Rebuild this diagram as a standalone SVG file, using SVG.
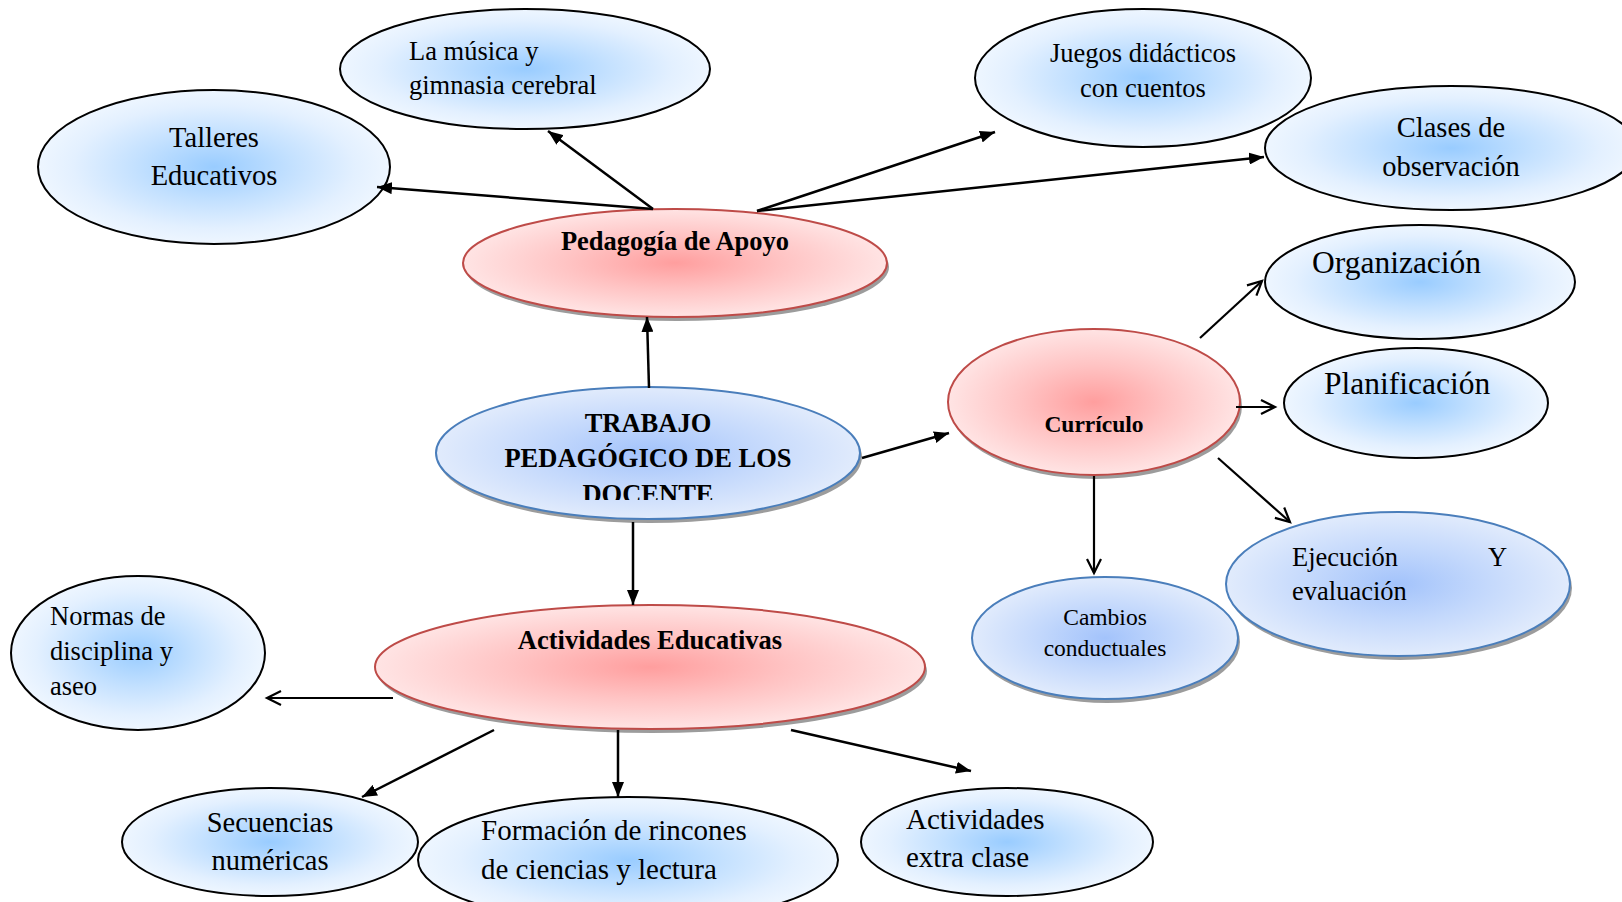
<svg xmlns="http://www.w3.org/2000/svg" width="1622" height="902" viewBox="0 0 1622 902">
<defs>
<radialGradient id="gBlue" cx="0.5" cy="0.5" r="0.5">
<stop offset="0" stop-color="#99ccff"/>
<stop offset="0.45" stop-color="#c4e1ff"/>
<stop offset="0.8" stop-color="#e3f0ff"/>
<stop offset="1" stop-color="#eef6ff"/>
</radialGradient>
<radialGradient id="gBlue2" cx="0.5" cy="0.5" r="0.5">
<stop offset="0" stop-color="#a3c3fb"/>
<stop offset="0.5" stop-color="#c3d8fc"/>
<stop offset="1" stop-color="#e1ebfc"/>
</radialGradient>
<radialGradient id="gRed" cx="0.5" cy="0.5" r="0.5">
<stop offset="0" stop-color="#ff9e9e"/>
<stop offset="0.5" stop-color="#ffc3c3"/>
<stop offset="1" stop-color="#ffe4e4"/>
</radialGradient>
<marker id="aFill" markerUnits="userSpaceOnUse" markerWidth="16" markerHeight="12" refX="15" refY="6" orient="auto">
<path d="M0,0 L15,6 L0,12 z" fill="#000"/>
</marker>
<marker id="aOpen" markerUnits="userSpaceOnUse" markerWidth="18" markerHeight="18" refX="15" refY="8" orient="auto">
<path d="M1,1 L15,8 L1,15" fill="none" stroke="#000" stroke-width="2.2"/>
</marker>
<clipPath id="clipDoc"><rect x="430" y="380" width="440" height="120"/></clipPath>
</defs>
<style>
.t{font-family:"Liberation Serif","Times New Roman",serif;fill:#000}
.b{font-weight:bold}
.n1{fill:url(#gBlue);stroke:#000;stroke-width:2}
.n2{fill:url(#gBlue2);stroke:#4a7ebb;stroke-width:2}
.nr{fill:url(#gRed);stroke:#be4b48;stroke-width:2}
.sh{fill:#9c9c9c}
.c{fill:none;stroke:#000;stroke-width:2.5}
.cf{marker-end:url(#aFill)}
.co{marker-end:url(#aOpen);stroke-width:2.2}
</style>

<g id="node-talleres">
<ellipse class="n1" cx="214" cy="167" rx="176" ry="77"/>
<text class="t" x="214" y="147" font-size="28.5" text-anchor="middle">Talleres</text>
<text class="t" x="214" y="185" font-size="28.5" text-anchor="middle">Educativos</text>
</g>
<g id="node-musica">
<ellipse class="n1" cx="525" cy="69" rx="185" ry="60"/>
<text class="t" x="409" y="60" font-size="26.5">La música y</text>
<text class="t" x="409" y="94" font-size="26.5">gimnasia cerebral</text>
</g>
<g id="node-juegos">
<ellipse class="n1" cx="1143" cy="78" rx="168" ry="69"/>
<text class="t" x="1143" y="62" font-size="26.5" text-anchor="middle">Juegos didácticos</text>
<text class="t" x="1143" y="97" font-size="26.5" text-anchor="middle">con cuentos</text>
</g>
<g id="node-clases">
<ellipse class="n1" cx="1451" cy="148" rx="186" ry="62"/>
<text class="t" x="1451" y="137" font-size="28.5" text-anchor="middle">Clases de</text>
<text class="t" x="1451" y="176" font-size="28.5" text-anchor="middle">observación</text>
</g>
<g id="node-pedagogia">
<ellipse class="sh" cx="677" cy="267" rx="212" ry="54"/>
<ellipse class="nr" cx="675" cy="263" rx="212" ry="54"/>
<text class="t b" x="675" y="250" font-size="26.5" text-anchor="middle">Pedagogía de Apoyo</text>
</g>
<g id="node-trabajo">
<ellipse class="sh" cx="650" cy="457" rx="212" ry="66"/>
<ellipse class="n2" cx="648" cy="453" rx="212" ry="66"/>
<text class="t b" x="648" y="432" font-size="26.5" text-anchor="middle">TRABAJO</text>
<text class="t b" x="648" y="467" font-size="26.5" text-anchor="middle">PEDAGÓGICO DE LOS</text>
<text class="t b" x="648" y="503" font-size="26.5" text-anchor="middle" clip-path="url(#clipDoc)">DOCENTE</text>
</g>
<g id="node-curriculo">
<ellipse class="sh" cx="1096" cy="406" rx="146" ry="73"/>
<ellipse class="nr" cx="1094" cy="402" rx="146" ry="73"/>
<text class="t b" x="1094" y="432" font-size="23.5" text-anchor="middle">Currículo</text>
</g>
<g id="node-organizacion">
<ellipse class="n1" cx="1420" cy="282" rx="155" ry="57"/>
<text class="t" x="1312" y="273" font-size="31.5">Organización</text>
</g>
<g id="node-planificacion">
<ellipse class="n1" cx="1416" cy="403" rx="132" ry="55"/>
<text class="t" x="1324" y="394" font-size="31.5">Planificación</text>
</g>
<g id="node-ejecucion">
<ellipse class="sh" cx="1400" cy="588" rx="172" ry="72"/>
<ellipse class="n2" cx="1398" cy="584" rx="172" ry="72"/>
<text class="t" x="1292" y="566" font-size="26.5">Ejecución</text>
<text class="t" x="1488" y="566" font-size="26.5">Y</text>
<text class="t" x="1292" y="600" font-size="26.5">evaluación</text>
</g>
<g id="node-cambios">
<ellipse class="sh" cx="1107" cy="642" rx="133" ry="61"/>
<ellipse class="n2" cx="1105" cy="638" rx="133" ry="61"/>
<text class="t" x="1105" y="625" font-size="23.5" text-anchor="middle">Cambios</text>
<text class="t" x="1105" y="656" font-size="23.5" text-anchor="middle">conductuales</text>
</g>
<g id="node-actividades">
<ellipse class="sh" cx="652" cy="671" rx="275" ry="62"/>
<ellipse class="nr" cx="650" cy="667" rx="275" ry="62"/>
<text class="t b" x="650" y="649" font-size="26.5" text-anchor="middle">Actividades Educativas</text>
</g>
<g id="node-normas">
<ellipse class="n1" cx="138" cy="653" rx="127" ry="77"/>
<text class="t" x="50" y="625" font-size="26.5">Normas de</text>
<text class="t" x="50" y="660" font-size="26.5">disciplina y</text>
<text class="t" x="50" y="695" font-size="26.5">aseo</text>
</g>
<g id="node-secuencias">
<ellipse class="n1" cx="270" cy="842" rx="148" ry="54"/>
<text class="t" x="270" y="832" font-size="28.5" text-anchor="middle">Secuencias</text>
<text class="t" x="270" y="870" font-size="28.5" text-anchor="middle">numéricas</text>
</g>
<g id="node-formacion">
<ellipse class="n1" cx="628" cy="860" rx="210" ry="63"/>
<text class="t" x="481" y="840" font-size="29">Formación de rincones</text>
<text class="t" x="481" y="879" font-size="29">de ciencias y lectura</text>
</g>
<g id="node-extra">
<ellipse class="n1" cx="1007" cy="842" rx="146" ry="54"/>
<text class="t" x="906" y="829" font-size="29">Actividades</text>
<text class="t" x="906" y="867" font-size="29">extra clase</text>
</g>

<g id="connectors">
<line class="c cf" x1="653" y1="209" x2="377" y2="187"/>
<line class="c cf" x1="653" y1="209" x2="548" y2="131"/>
<line class="c cf" x1="757" y1="211" x2="995" y2="132"/>
<line class="c cf" x1="757" y1="211" x2="1264" y2="157"/>
<line class="c cf" x1="649" y1="388" x2="647" y2="317"/>
<line class="c cf" x1="862" y1="458" x2="949" y2="433"/>
<line class="c cf" x1="633" y1="522" x2="633" y2="605"/>
<line class="c co" x1="1200" y1="338" x2="1262" y2="281"/>
<line class="c co" x1="1236" y1="407" x2="1275" y2="407"/>
<line class="c co" x1="1218" y1="458" x2="1290" y2="522"/>
<line class="c co" x1="1094" y1="476" x2="1094" y2="573"/>
<line class="c co" x1="393" y1="698" x2="267" y2="698"/>
<line class="c cf" x1="494" y1="730" x2="362" y2="797"/>
<line class="c cf" x1="618" y1="730" x2="618" y2="797"/>
<line class="c cf" x1="791" y1="730" x2="971" y2="771"/>
</g>
</svg>
